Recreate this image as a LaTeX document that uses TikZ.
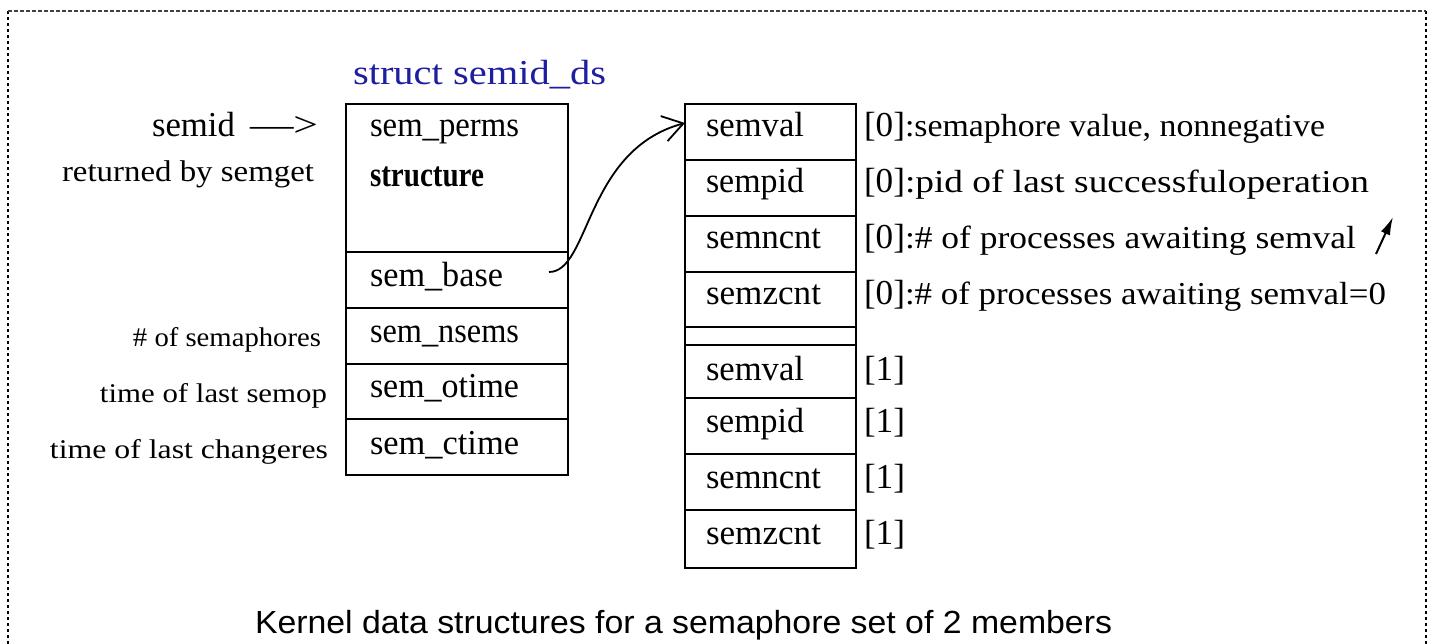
\documentclass[tikz,border=0pt]{standalone}
\usepackage{fontspec}
\usepackage{graphicx}
\setmainfont{Liberation Serif}
\newfontfamily\capfont{Liberation Sans}
\usetikzlibrary{arrows.meta}
\definecolor{titleblue}{RGB}{30,30,160}
\newcommand\fw[2]{\resizebox{#1pt}{\height}{#2}}
\newcommand\fsA{\fontsize{35}{40}\selectfont}
\newcommand\fsB{\fontsize{32}{36}\selectfont}
\newcommand\fsC{\fontsize{30}{34}\selectfont}
\newcommand\fsD{\fontsize{27}{31}\selectfont}
\begin{document}
\begin{tikzpicture}[x=1pt,y=-1pt,
  cell/.style={draw, line width=1.8pt, inner sep=0pt, outer sep=0pt, anchor=north west},
  lbl/.style={inner sep=0pt, outer sep=0pt, anchor=base west},
  rlbl/.style={inner sep=0pt, outer sep=0pt, anchor=base east},
  frameline/.style={line width=2pt, dash pattern=on 3pt off 3pt},
  topline/.style={line width=1.3pt, black!75, dash pattern=on 4pt off 2pt}]
\useasboundingbox (0,0) rectangle (1433,644);
% frame
\draw[frameline] (8,644) -- (8,11);
\draw[frameline] (1426,11) -- (1426,644);
\draw[topline] (8,11) -- (1426,11);

% title
\node[lbl, text=titleblue] (title) at (353,85) {\fw{253}{\fsA struct semid\_ds}};

% left struct cells
\node[cell, minimum width=222pt, minimum height=148pt] (perms) at (346,104) {};
\node[cell, minimum width=222pt, minimum height=56pt] (base) at (346,252) {};
\node[cell, minimum width=222pt, minimum height=56pt] (nsems) at (346,308) {};
\node[cell, minimum width=222pt, minimum height=55pt] (otime) at (346,364) {};
\node[cell, minimum width=222pt, minimum height=56pt] (ctime) at (346,419) {};

\node[lbl] (tperms) at (370,137) {\fw{149}{\fsA sem\_perms}};
\node[lbl] (tstruct) at (370,187) {\fw{114}{\fsA\bfseries structure}};
\node[lbl] (tbase) at (370,287) {\fw{133}{\fsA sem\_base}};
\node[lbl] (tnsems) at (370,343) {\fw{149}{\fsA sem\_nsems}};
\node[lbl] (totime) at (370,398) {\fw{149}{\fsA sem\_otime}};
\node[lbl] (tctime) at (370,454) {\fw{149}{\fsA sem\_ctime}};

% left labels
\node[lbl] (semid) at (152,137) {\fw{83}{\fsA semid}\hspace{15pt}\fw{68}{\fsA ---\textgreater}};
\node[rlbl] (ret) at (314,182) {\fw{252}{\fsC returned by semget}};
\node[rlbl] (lnsems) at (321,346) {\fw{188}{\fsD \# of semaphores}};
\node[rlbl] (lotime) at (327,402) {\fw{227}{\fsD time of last semop}};
\node[rlbl] (lctime) at (328,458) {\fw{278}{\fsD time of last changeres}};

% right array cells
\node[cell, minimum width=171pt, minimum height=56pt] (v0) at (685,104) {};
\node[cell, minimum width=171pt, minimum height=56pt] (p0) at (685,160) {};
\node[cell, minimum width=171pt, minimum height=56pt] (n0) at (685,216) {};
\node[cell, minimum width=171pt, minimum height=55pt] (z0) at (685,272) {};
\node[cell, minimum width=171pt, minimum height=18pt] (gap) at (685,327) {};
\node[cell, minimum width=171pt, minimum height=53pt] (v1) at (685,345) {};
\node[cell, minimum width=171pt, minimum height=56pt] (p1) at (685,398) {};
\node[cell, minimum width=171pt, minimum height=56pt] (n1) at (685,454) {};
\node[cell, minimum width=171pt, minimum height=58pt] (z1) at (685,510) {};

\node[lbl] (tv0) at (706,137) {\fw{98}{\fsA semval}};
\node[lbl] (tp0) at (706,193) {\fw{98}{\fsA sempid}};
\node[lbl] (tn0) at (706,249) {\fw{115}{\fsA semncnt}};
\node[lbl] (tz0) at (706,305) {\fw{115}{\fsA semzcnt}};
\node[lbl] (tv1) at (706,380) {\fw{98}{\fsA semval}};
\node[lbl] (tp1) at (706,432) {\fw{98}{\fsA sempid}};
\node[lbl] (tn1) at (706,488) {\fw{115}{\fsA semncnt}};
\node[lbl] (tz1) at (706,544) {\fw{115}{\fsA semzcnt}};

% index annotations
\node[lbl] (a0) at (864,137) {\fw{41}{\fsA [0]}\fw{420}{\fsB :semaphore value, nonnegative}};
\node[lbl] (a1) at (864,193) {\fw{41}{\fsA [0]}\fw{464}{\fsB :pid of last successfuloperation}};
\node[lbl] (a2) at (864,249) {\fw{41}{\fsA [0]}\fw{451}{\fsB :\# of processes awaiting semval}};
\node[lbl] (a3) at (864,305) {\fw{41}{\fsA [0]}\fw{481}{\fsB :\# of processes awaiting semval=0}};
\node[lbl] (b0) at (864,380) {\fw{41}{\fsA [1]}};
\node[lbl] (b1) at (864,432) {\fw{41}{\fsA [1]}};
\node[lbl] (b2) at (864,488) {\fw{41}{\fsA [1]}};
\node[lbl] (b3) at (864,544) {\fw{41}{\fsA [1]}};

% pointer curve
\coordinate (bstart) at (549,272);
\draw[line width=1.8pt, -{Straight Barb[length=20pt,width=26pt]}]
  (bstart) .. controls (590,272) and (585,150) .. ([yshift=9pt]v0.west);

% small arrow
\coordinate (sa) at (1376,254);
\coordinate (sb) at (1393,217);
\draw[line width=2pt, -{Latex[length=18pt,width=10pt]}] (sa) -- (sb);

% caption
\node[lbl] (cap) at (255,633) {\fw{857}{\capfont\fontsize{32}{36}\selectfont Kernel data structures for a semaphore set of 2 members}};
\end{tikzpicture}
\end{document}
